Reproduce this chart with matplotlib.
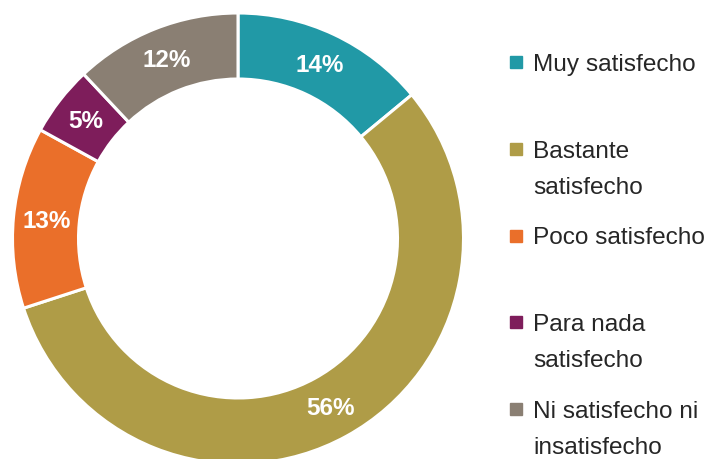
import matplotlib
matplotlib.use("Agg")
import matplotlib.pyplot as plt
from matplotlib.lines import Line2D
import numpy as np

categories = ["Muy satisfecho", "Bastante\nsatisfecho", "Poco satisfecho",
              "Para nada\nsatisfecho", "Ni satisfecho ni\ninsatisfecho"]
values = [14, 56, 13, 5, 12]
pct_labels = ["14%", "56%", "13%", "5%", "12%"]
colors = ["#2199A6", "#AF9C47", "#EA6F2A", "#7E1D5B", "#8A7F73"]

FONT = ["Liberation Sans", "DejaVu Sans"]

W, H = 709, 459
fig = plt.figure(figsize=(W / 100, H / 100), dpi=100)

# pie geometry in pixels
cx, cy_top, R = 238, 238.5, 225.5
cy = H - cy_top
ax = fig.add_axes([(cx - R) / W, (cy - R) / H, 2 * R / W, 2 * R / H])
ring = 66 / R

wedges, _ = ax.pie(values, colors=colors, startangle=90, counterclock=False,
                   radius=1.0,
                   wedgeprops=dict(width=ring, edgecolor="white", linewidth=2.2))
mid_r = 1 - ring / 2
for w, lab in zip(wedges, pct_labels):
    ang = np.deg2rad((w.theta1 + w.theta2) / 2)
    ax.text(mid_r * np.cos(ang), mid_r * np.sin(ang) - 0.005, lab, ha="center",
            va="center", color="white", fontsize=17.5, fontweight="bold",
            family=FONT)
ax.set_xlim(-1, 1)
ax.set_ylim(-1, 1)
ax.set_aspect("auto")
ax.axis("off")

# legend (manual, square aligned to first line)
base0, step, line_h = 70.7, 86.9, 36
sq_x, txt_x = 516, 533
for i, (cat, col) in enumerate(zip(categories, colors)):
    b = base0 + i * step
    fig.add_artist(Line2D([sq_x / W], [(H - (b - 9)) / H], marker="s",
                          markersize=8.4, color=col, linestyle="none",
                          transform=fig.transFigure))
    for j, line in enumerate(cat.split("\n")):
        fig.text(txt_x / W, (H - (b + j * line_h)) / H, line, ha="left",
                 va="baseline", fontsize=17.6, color="#262626", family=FONT)

fig.savefig("out.png", dpi=100)
